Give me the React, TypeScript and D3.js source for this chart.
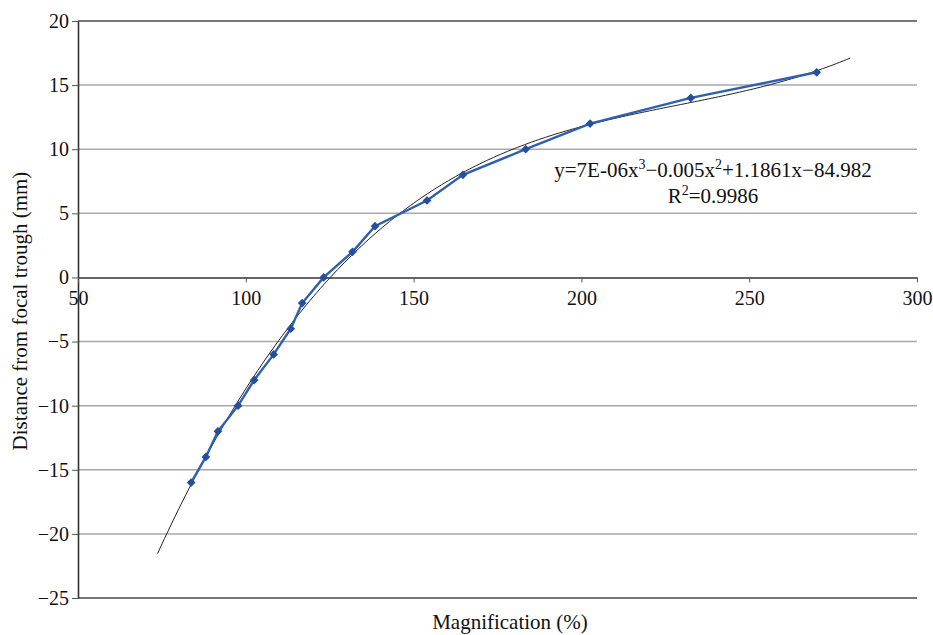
import * as d3 from "d3";
import { useEffect, useRef } from "react";

const magnification = [
  83.7, 88.1, 91.7, 97.7, 102.5, 108.3, 113.4, 116.8, 123.2, 131.8, 138.5,
  154.0, 164.7, 183.4, 202.6, 232.6, 270.1,
];
const distance = [
  -16, -14, -12, -10, -8, -6, -4, -2, 0, 2, 4, 6, 8, 10, 12, 14, 16,
];
const xTicks = [50, 100, 150, 200, 250, 300];
const yTicks = [20, 15, 10, 5, 0, -5, -10, -15, -20, -25];
const forecast = 10;

const width = 933;
const height = 635;
const plot = { left: 78, right: 917, top: 21, bottom: 598 };
const font = "'Liberation Serif', 'Times New Roman', serif";

// least squares cubic fit, x centred for stability
function cubicFit(xs: number[], ys: number[]) {
  const mean = d3.mean(xs) as number;
  const n = 4;
  const A = Array.from({ length: n }, () => new Array(n + 1).fill(0));
  xs.forEach((x0, k) => {
    const x = x0 - mean;
    const pw = [1, x, x * x, x * x * x];
    for (let i = 0; i < n; i++) {
      for (let j = 0; j < n; j++) A[i][j] += pw[i] * pw[j];
      A[i][n] += pw[i] * ys[k];
    }
  });
  for (let c = 0; c < n; c++) {
    let p = c;
    for (let r = c + 1; r < n; r++) if (Math.abs(A[r][c]) > Math.abs(A[p][c])) p = r;
    [A[c], A[p]] = [A[p], A[c]];
    for (let r = 0; r < n; r++) {
      if (r === c) continue;
      const f = A[r][c] / A[c][c];
      for (let j = c; j <= n; j++) A[r][j] -= f * A[c][j];
    }
  }
  const coef = A.map((row, i) => row[n] / row[i]);
  return (x0: number) => {
    const x = x0 - mean;
    return coef[0] + coef[1] * x + coef[2] * x * x + coef[3] * x * x * x;
  };
}

export default function App() {
  const svgRef = useRef<SVGSVGElement>(null);

  useEffect(() => {
    if (!svgRef.current) return;
    const svg = d3.select(svgRef.current);
    svg.selectAll("*").remove();

    const x = d3.scaleLinear().domain([50, 300]).range([plot.left, plot.right]);
    const y = d3.scaleLinear().domain([-25, 20]).range([plot.bottom, plot.top]);

    // horizontal gridlines
    svg
      .append("g")
      .selectAll("line")
      .data(yTicks.filter((t) => t !== 0))
      .join("line")
      .attr("x1", plot.left)
      .attr("x2", plot.right)
      .attr("y1", (t) => y(t))
      .attr("y2", (t) => y(t))
      .attr("stroke", (t) => (t === 20 || t === -25 ? "#4a4a4a" : "#a8a8a8"))
      .attr("stroke-width", 1.5);

    // y axis
    const yAxis = svg
      .append("g")
      .attr("transform", `translate(${plot.left},0)`)
      .call(d3.axisLeft(y).tickValues(yTicks).tickSize(6).tickSizeOuter(0).tickFormat((d) => {
        const v = d as number;
        return v < 0 ? `\u2212${-v}` : `${v}`;
      }));
    yAxis.select(".domain").attr("stroke", "#333").attr("stroke-width", 1.6);
    yAxis.selectAll(".tick line").attr("stroke", "#555");
    yAxis
      .selectAll(".tick text")
      .attr("x", -9)
      .attr("fill", "#111")
      .style("font-family", font)
      .style("font-size", "20px");

    // x axis at y = 0
    const xAxis = svg
      .append("g")
      .attr("transform", `translate(0,${y(0)})`)
      .call(d3.axisBottom(x).tickValues(xTicks).tickSize(5).tickSizeOuter(0));
    xAxis.select(".domain").attr("stroke", "#333").attr("stroke-width", 1.6);
    xAxis.selectAll(".tick line").attr("stroke", "#555");
    xAxis
      .selectAll(".tick text")
      .attr("y", 13)
      .attr("fill", "#111")
      .style("font-family", font)
      .style("font-size", "20px");

    // trendline
    const fit = cubicFit(magnification, distance);
    const x0 = (d3.min(magnification) as number) - forecast;
    const x1 = (d3.max(magnification) as number) + forecast;
    const trend = d3.range(x0, x1 + 0.001, (x1 - x0) / 200);
    svg
      .append("path")
      .datum(trend)
      .attr("fill", "none")
      .attr("stroke", "#222")
      .attr("stroke-width", 1)
      .attr("d", d3.line<number>().x((d) => x(d)).y((d) => y(fit(d))));

    // data line
    const pts = magnification.map((m, i) => [m, distance[i]] as [number, number]);
    svg
      .append("path")
      .datum(pts)
      .attr("fill", "none")
      .attr("stroke", "#2f5fb0")
      .attr("stroke-width", 2.4)
      .attr("d", d3.line<[number, number]>().x((d) => x(d[0])).y((d) => y(d[1])));

    svg
      .append("g")
      .selectAll("path")
      .data(pts)
      .join("path")
      .attr("transform", (d) => `translate(${x(d[0])},${y(d[1])}) rotate(45)`)
      .attr("d", d3.symbol(d3.symbolSquare, 38)())
      .attr("fill", "#234f9e");

    // equation
    const eq = svg
      .append("text")
      .attr("x", 713)
      .attr("y", 177)
      .attr("text-anchor", "middle")
      .attr("fill", "#111")
      .style("font-family", font)
      .style("font-size", "21px");
    eq.append("tspan").text("y=7E-06x");
    eq.append("tspan").attr("dy", -8).style("font-size", "14px").text("3");
    eq.append("tspan").attr("dy", 8).text("\u22120.005x");
    eq.append("tspan").attr("dy", -8).style("font-size", "14px").text("2");
    eq.append("tspan").attr("dy", 8).text("+1.1861x\u221284.982");

    const r2 = svg
      .append("text")
      .attr("x", 713)
      .attr("y", 203)
      .attr("text-anchor", "middle")
      .attr("fill", "#111")
      .style("font-family", font)
      .style("font-size", "21px");
    r2.append("tspan").text("R");
    r2.append("tspan").attr("dy", -8).style("font-size", "14px").text("2");
    r2.append("tspan").attr("dy", 8).text("=0.9986");

    // axis titles
    svg
      .append("text")
      .attr("x", 510)
      .attr("y", 629)
      .attr("text-anchor", "middle")
      .attr("fill", "#111")
      .style("font-family", font)
      .style("font-size", "21px")
      .text("Magnification (%)");

    svg
      .append("text")
      .attr("transform", `translate(27,311) rotate(-90)`)
      .attr("text-anchor", "middle")
      .attr("fill", "#111")
      .style("font-family", font)
      .style("font-size", "21px")
      .text("Distance from focal trough (mm)");
  }, []);

  return (
    <svg
      ref={svgRef}
      width={width}
      height={height}
      style={{ position: "absolute", left: 0, top: 0, background: "#fff" }}
    />
  );
}
